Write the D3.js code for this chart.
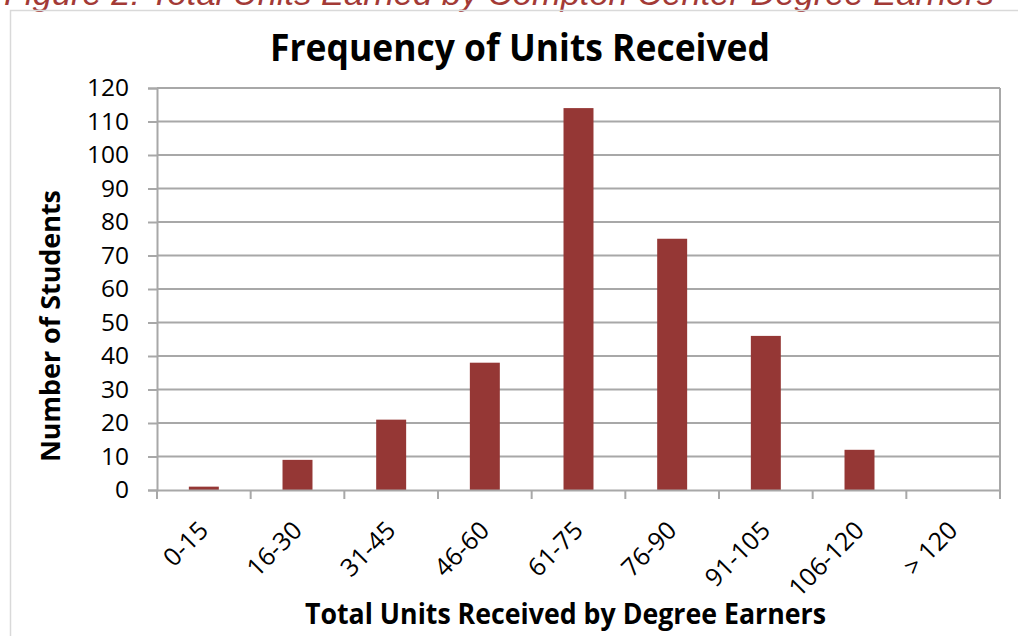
<!DOCTYPE html>
<html><head><meta charset="utf-8">
<script src="https://cdn.jsdelivr.net/npm/d3@7"></script>
<style>body{margin:0;background:#fff;}svg{display:block;}</style>
</head><body>
<script>
const categories = ["0-15","16-30","31-45","46-60","61-75","76-90","91-105","106-120","> 120"];
const counts = [1, 9, 21, 38, 114, 75, 46, 12, 0];
const yTicks = [0,10,20,30,40,50,60,70,80,90,100,110,120];

const W = 1018, H = 636;
const m = {left:157, right:1000, top:88, bottom:490};
const svg = d3.select("body").append("svg").attr("width", W).attr("height", H);
const font = "'Open Sans', 'Noto Sans', sans-serif";

// caption (clipped at top)
svg.append("text").attr("x", 4).attr("y", 5)
  .attr("font-family", "'Liberation Sans', Arial, sans-serif").attr("font-style","italic")
  .attr("font-size", 34).attr("fill", "#A33A36")
  .attr("textLength", 990).attr("lengthAdjust", "spacingAndGlyphs")
  .text("Figure 2: Total Units Earned by Compton Center Degree Earners");

// chart frame
svg.append("rect").attr("x", 10.5).attr("y", 10.5).attr("width", 1030).attr("height", 700)
  .attr("fill", "none").attr("stroke", "#D9D9D9").attr("stroke-width", 1.5);

const x = d3.scaleBand().domain(categories).range([m.left, m.right]).paddingInner(0.68).paddingOuter(0.34);
const xb = d3.scaleBand().domain(categories).range([m.left, m.right]);
const y = d3.scaleLinear().domain([0,120]).range([m.bottom, m.top]);

// gridlines
svg.append("g").selectAll("line").data(yTicks.filter(d=>d>0)).join("line")
  .attr("x1", m.left).attr("x2", m.right)
  .attr("y1", d=>y(d)).attr("y2", d=>y(d))
  .attr("stroke", "#A8A8A8").attr("stroke-width", 2);

// y axis
const yAxis = svg.append("g").attr("transform", `translate(${m.left},0)`)
  .call(d3.axisLeft(y).tickValues(yTicks).tickSize(9).tickPadding(19));
yAxis.select(".domain").attr("stroke", "#A8A8A8").attr("stroke-width", 2);
yAxis.selectAll(".tick line").attr("stroke", "#A8A8A8").attr("stroke-width", 2);
yAxis.selectAll("text").attr("font-family", font).attr("font-size", 24.5).attr("fill", "#000");

// right border of plot
svg.append("line").attr("x1", m.right).attr("x2", m.right).attr("y1", m.top).attr("y2", m.bottom + 9)
  .attr("stroke", "#A8A8A8").attr("stroke-width", 2);

// bars
svg.append("g").selectAll("rect").data(categories).join("rect")
  .attr("x", d=>x(d)).attr("width", x.bandwidth())
  .attr("y", (d,i)=>y(counts[i])).attr("height", (d,i)=>y(0)-y(counts[i]))
  .attr("fill", "#953735");

// x axis
const xAxis = svg.append("g").attr("transform", `translate(0,${m.bottom})`)
  .call(d3.axisBottom(xb).tickSize(0).tickPadding(0));
xAxis.select(".domain").attr("stroke", "#A8A8A8").attr("stroke-width", 2);
// boundary ticks
const bounds = categories.map(c=>xb(c)).concat([m.right]);
svg.append("g").selectAll("line").data(bounds).join("line")
  .attr("x1", d=>d).attr("x2", d=>d).attr("y1", m.bottom).attr("y2", m.bottom+9)
  .attr("stroke", "#A8A8A8").attr("stroke-width", 2);
xAxis.selectAll(".tick text")
  .attr("font-family", font).attr("font-size", 25).attr("fill", "#000")
  .attr("text-anchor", "end").attr("dy", null).attr("y", 0)
  .attr("transform", "translate(6,42) rotate(-45)");

// titles
svg.append("text").attr("x", 270).attr("y", 61)
  .attr("font-family", font).attr("font-weight", "bold").attr("font-size", 37).attr("fill","#000")
  .attr("textLength", 500).attr("lengthAdjust", "spacingAndGlyphs")
  .text("Frequency of Units Received");
svg.append("text").attr("transform", "translate(60,326) rotate(-90)").attr("text-anchor","middle")
  .attr("font-family", font).attr("font-weight", "bold").attr("font-size", 26).attr("fill","#000")
  .attr("textLength", 272).attr("lengthAdjust", "spacingAndGlyphs")
  .text("Number of Students");
svg.append("text").attr("x", 305).attr("y", 624)
  .attr("font-family", font).attr("font-weight", "bold").attr("font-size", 28).attr("fill","#000")
  .attr("textLength", 521).attr("lengthAdjust", "spacingAndGlyphs")
  .text("Total Units Received by Degree Earners");
</script>
</body></html>
